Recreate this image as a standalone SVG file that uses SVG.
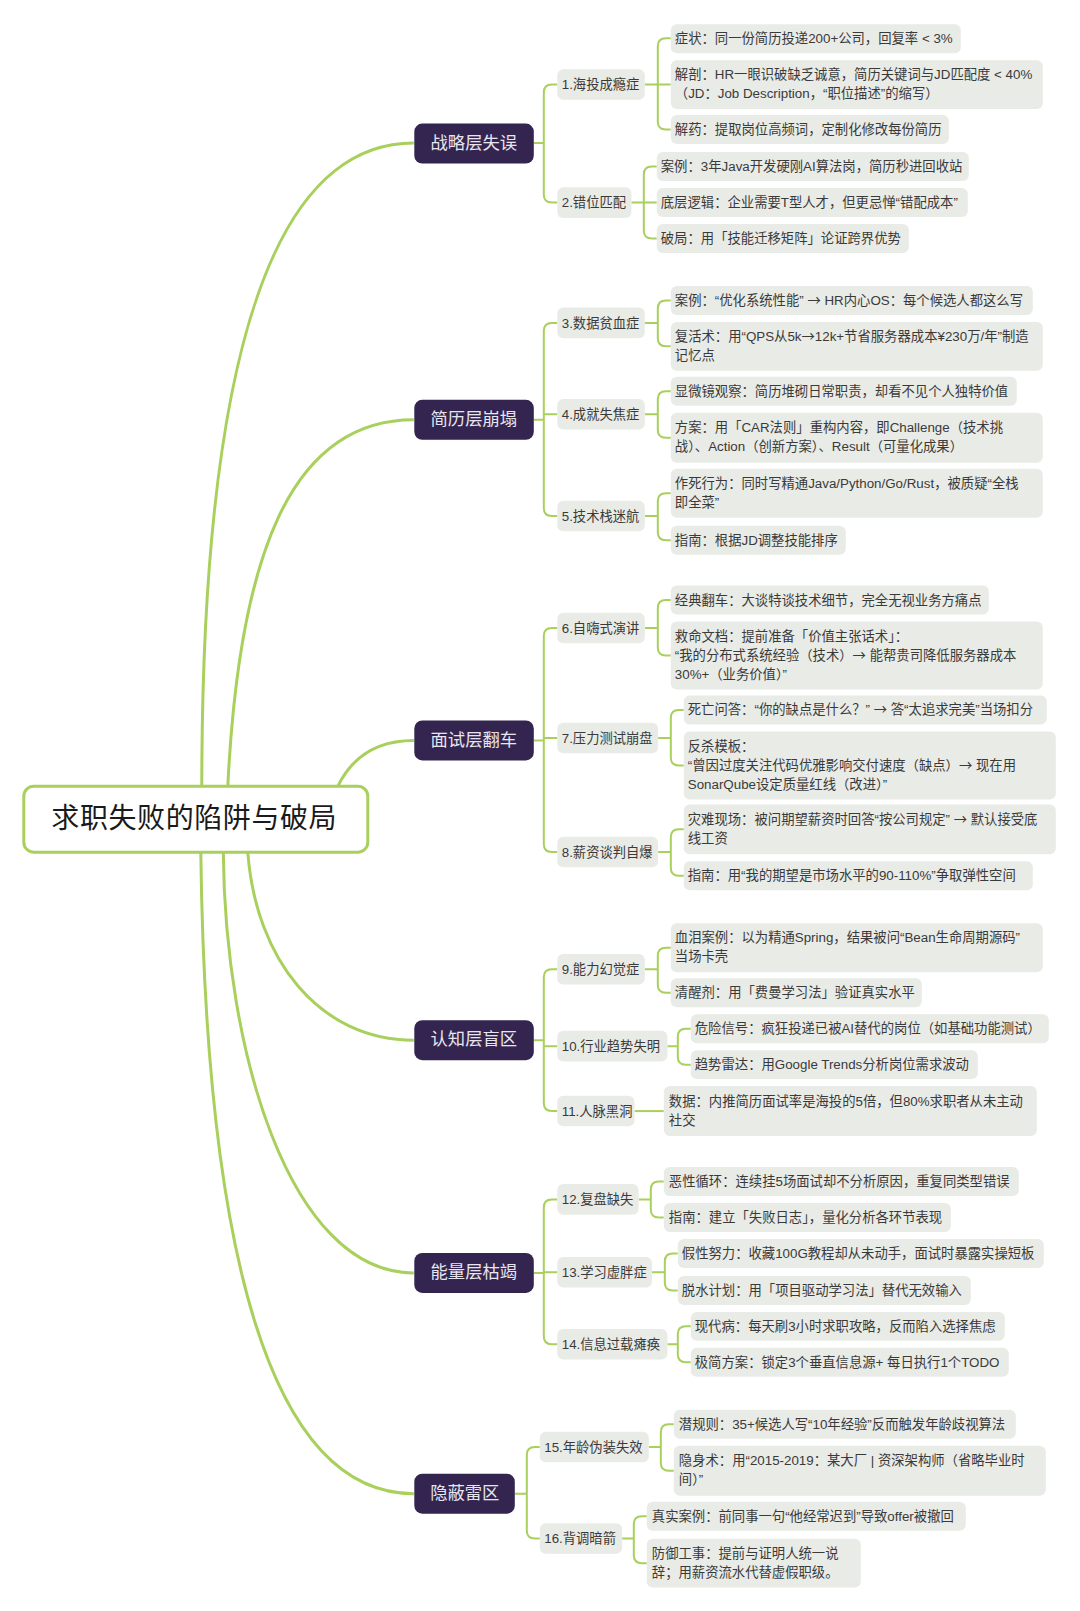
<svg xmlns="http://www.w3.org/2000/svg" width="1080" height="1611" viewBox="0 0 1080 1611">
<style>
text{font-family:"Liberation Sans","Noto Sans CJK SC",sans-serif}
.c,.m{fill:none;stroke:#a9d05c;stroke-width:2}
.m{stroke-width:3}
.l rect,.s rect{fill:#e9ebe6}
.l text{font-size:13.35px;fill:#3a3a3a}
.s text{font-size:13.3px;fill:#3a3a3a}
.t rect{fill:#33254f}
.t text{font-size:17.3px;fill:#e9e5ef;text-anchor:middle}
.a{font-family:"Noto Sans CJK SC",sans-serif}
</style>
<rect width="1080" height="1611" fill="#fff"/>
<g transform="translate(-1.2 0.2) scale(1 .999)">
<g id="connectors">
<path class="m" d="M203 787C203 400 260 143 415 143"/>
<path class="m" d="M229 787C240 560 290 420 415 420"/>
<path class="m" d="M339 787C352 760 375 741 415 741"/>
<path class="m" d="M249 853C257 960 320 1041 415 1041"/>
<path class="m" d="M224.500 853C226 1050 290 1274 415 1274"/>
<path class="m" d="M202 853C207 1250 270 1495 415 1495"/>
<path class="c" d="M535 143H545M558.5 84.3H553Q545 84.3 545 92.3V194.6Q545 202.6 553 202.6H558.5"/>
<path class="c" d="M535 420H545M558.5 323H553Q545 323 545 331V508.4Q545 516.4 553 516.4H558.5M545 414.5H558.5"/>
<path class="c" d="M535 741H545M558.5 628.5H553Q545 628.5 545 636.5V844.7Q545 852.7 553 852.7H558.5M545 738.5H558.5"/>
<path class="c" d="M535 1041H545M558.5 970H553Q545 970 545 978V1104Q545 1112 553 1112H558.5M545 1047H558.5"/>
<path class="c" d="M535 1274H545M558.5 1200.4H553Q545 1200.4 545 1208.4V1337.4Q545 1345.4 553 1345.4H558.5M545 1273.4H558.5"/>
<path class="c" d="M516 1495H528M541 1448.3H536Q528 1448.3 528 1456.3V1531.8Q528 1539.8 536 1539.8H541"/>
<path class="c" d="M646 84.3H672M672 38H667Q659 38 659 46V121.5Q659 129.5 667 129.5H672"/>
<path class="c" d="M632.6 202.6H658M658 166.5H653Q645 166.5 645 174.5V230.5Q645 238.5 653 238.5H658"/>
<path class="c" d="M646 323H659M672 300.5H667Q659 300.5 659 308.5V338.5Q659 346.5 667 346.5H672"/>
<path class="c" d="M646 414.5H659M672 391.5H667Q659 391.5 659 399.5V430Q659 438 667 438H672"/>
<path class="c" d="M646 516.4H659M672 493.5H667Q659 493.5 659 501.5V532.5Q659 540.5 667 540.5H672"/>
<path class="c" d="M646 628.5H659M672 600.5H667Q659 600.5 659 608.5V648Q659 656 667 656H672"/>
<path class="c" d="M659.3 738.5H672M685 710.5H680Q672 710.5 672 718.5V758Q672 766 680 766H685"/>
<path class="c" d="M659.3 852.7H672M685 830H680Q672 830 672 838V868.5Q672 876.5 680 876.5H685"/>
<path class="c" d="M646 970H659M672 948.5H667Q659 948.5 659 956.5V985.5Q659 993.5 667 993.5H672"/>
<path class="c" d="M668.6 1047H679M692 1029.5H687Q679 1029.5 679 1037.5V1057.5Q679 1065.5 687 1065.5H692"/>
<path class="c" d="M635.7 1112H665"/>
<path class="c" d="M639.8 1200.4H652M665 1182.5H660Q652 1182.5 652 1190.5V1210.5Q652 1218.5 660 1218.5H665"/>
<path class="c" d="M653.2 1273.4H666M679 1254.5H674Q666 1254.5 666 1262.5V1283.5Q666 1291.5 674 1291.5H679"/>
<path class="c" d="M668.6 1345.4H679M692 1327.5H687Q679 1327.5 679 1335.5V1355.5Q679 1363.5 687 1363.5H692"/>
<path class="c" d="M650 1448.3H662M675 1425.5H670Q662 1425.5 662 1433.5V1464Q662 1472 670 1472H675"/>
<path class="c" d="M623.3 1539.8H635M648 1517.5H643Q635 1517.5 635 1525.5V1556.5Q635 1564.5 643 1564.5H648"/>
</g>
<g id="root"><rect x="25" y="786.8" width="344" height="66" rx="10" fill="#fff" stroke="#a9d05c" stroke-width="3"/><text x="195.5" y="829" font-size="28" letter-spacing="0.6" text-anchor="middle" fill="#1a1a1a">求职失败的陷阱与破局</text></g>
<g id="t1" class="t"><rect x="415.5" y="123.5" width="119.5" height="40" rx="8"/><text x="475" y="148.7">战略层失误</text></g>
<g id="t2" class="t"><rect x="415.5" y="400" width="119.5" height="40" rx="8"/><text x="475" y="425.2">简历层崩塌</text></g>
<g id="t3" class="t"><rect x="415.5" y="721" width="119.5" height="40" rx="8"/><text x="475" y="746.2">面试层翻车</text></g>
<g id="t4" class="t"><rect x="415.5" y="1021" width="119.5" height="40" rx="8"/><text x="475" y="1046.200">认知层盲区</text></g>
<g id="t5" class="t"><rect x="415.5" y="1254" width="119.5" height="40" rx="8"/><text x="475" y="1279.200">能量层枯竭</text></g>
<g id="t6" class="t"><rect x="415.5" y="1475" width="100.5" height="40" rx="8"/><text x="466" y="1500.200">隐蔽雷区</text></g>
<g id="s1" class="s"><rect x="558.5" y="69" width="87.5" height="30.6" rx="6"/><text x="563" y="89">1.海投成瘾症</text></g>
<g id="s2" class="s"><rect x="558.5" y="187.3" width="74.1" height="30.6" rx="6"/><text x="563" y="207.3">2.错位匹配</text></g>
<g id="s3" class="s"><rect x="558.5" y="307.7" width="87.5" height="30.6" rx="6"/><text x="563" y="327.7">3.数据贫血症</text></g>
<g id="s4" class="s"><rect x="558.5" y="399.2" width="87.5" height="30.6" rx="6"/><text x="563" y="419.2">4.成就失焦症</text></g>
<g id="s5" class="s"><rect x="558.5" y="501.1" width="87.5" height="30.6" rx="6"/><text x="563" y="521.1">5.技术栈迷航</text></g>
<g id="s6" class="s"><rect x="558.5" y="613.2" width="87.5" height="30.6" rx="6"/><text x="563" y="633.2">6.自嗨式演讲</text></g>
<g id="s7" class="s"><rect x="558.5" y="723.2" width="100.8" height="30.6" rx="6"/><text x="563" y="743.2">7.压力测试崩盘</text></g>
<g id="s8" class="s"><rect x="558.5" y="837.4" width="100.8" height="30.6" rx="6"/><text x="563" y="857.4">8.薪资谈判自爆</text></g>
<g id="s9" class="s"><rect x="558.5" y="954.7" width="87.5" height="30.6" rx="6"/><text x="563" y="974.7">9.能力幻觉症</text></g>
<g id="s10" class="s"><rect x="558.5" y="1031.7" width="110.1" height="30.6" rx="6"/><text x="563" y="1051.7">10.行业趋势失明</text></g>
<g id="s11" class="s"><rect x="558.5" y="1096.7" width="77.2" height="30.6" rx="6"/><text x="563" y="1116.7">11.人脉黑洞</text></g>
<g id="s12" class="s"><rect x="558.5" y="1185.1" width="81.3" height="30.6" rx="6"/><text x="563" y="1205.1">12.复盘缺失</text></g>
<g id="s13" class="s"><rect x="558.5" y="1258.1" width="94.7" height="30.6" rx="6"/><text x="563" y="1278.1">13.学习虚胖症</text></g>
<g id="s14" class="s"><rect x="558.5" y="1330.1" width="110.1" height="30.6" rx="6"/><text x="563" y="1350.1">14.信息过载瘫痪</text></g>
<g id="s15" class="s"><rect x="541" y="1433" width="109" height="30.6" rx="6"/><text x="545.5" y="1453">15.年龄伪装失效</text></g>
<g id="s16" class="s"><rect x="541" y="1524.5" width="82.3" height="30.6" rx="6"/><text x="545.5" y="1544.5">16.背调暗箭</text></g>
<g id="l1" class="l"><rect x="672" y="24" width="290" height="29" rx="6"/><text x="676" y="43">症状&#xFF1A;同一份简历投递200+公司&#xFF0C;回复率 &lt; 3%</text></g>
<g id="l2" class="l"><rect x="672" y="60" width="372" height="49" rx="6"/><text x="676" y="79">解剖&#xFF1A;HR一眼识破缺乏诚意&#xFF0C;简历关键词与JD匹配度 &lt; 40%</text><text x="676" y="98">&#xFF08;JD&#xFF1A;Job Description&#xFF0C;“职位描述”的缩写&#xFF09;</text></g>
<g id="l3" class="l"><rect x="672" y="115" width="278" height="29" rx="6"/><text x="676" y="134">解药&#xFF1A;提取岗位高频词&#xFF0C;定制化修改每份简历</text></g>
<g id="l4" class="l"><rect x="658" y="152" width="312" height="29" rx="6"/><text x="662" y="171">案例&#xFF1A;3年Java开发硬刚AI算法岗&#xFF0C;简历秒进回收站</text></g>
<g id="l5" class="l"><rect x="658" y="188" width="311" height="29" rx="6"/><text x="662" y="207">底层逻辑&#xFF1A;企业需要T型人才&#xFF0C;但更忌惮“错配成本”</text></g>
<g id="l6" class="l"><rect x="658" y="224" width="252" height="29" rx="6"/><text x="662" y="243">破局&#xFF1A;用「技能迁移矩阵」论证跨界优势</text></g>
<g id="l7" class="l"><rect x="672" y="286" width="362" height="29" rx="6"/><text x="676" y="305">案例&#xFF1A;“优化系统性能” <tspan class="a">→</tspan> HR内心OS&#xFF1A;每个候选人都这么写</text></g>
<g id="l8" class="l"><rect x="672" y="322" width="372" height="49" rx="6"/><text x="676" y="341">复活术&#xFF1A;用“QPS从5k<tspan class="a">→</tspan>12k+节省服务器成本¥230万/年”制造</text><text x="676" y="360">记忆点</text></g>
<g id="l9" class="l"><rect x="672" y="377" width="346" height="29" rx="6"/><text x="676" y="396">显微镜观察&#xFF1A;简历堆砌日常职责&#xFF0C;却看不见个人独特价值</text></g>
<g id="l10" class="l"><rect x="672" y="413" width="372" height="50" rx="6"/><text x="676" y="432.5">方案&#xFF1A;用「CAR法则」重构内容&#xFF0C;即Challenge&#xFF08;技术挑</text><text x="676" y="451.5">战&#xFF09;、Action&#xFF08;创新方案&#xFF09;、Result&#xFF08;可量化成果&#xFF09;</text></g>
<g id="l11" class="l"><rect x="672" y="469" width="372" height="49" rx="6"/><text x="676" y="488">作死行为&#xFF1A;同时写精通Java/Python/Go/Rust&#xFF0C;被质疑“全栈</text><text x="676" y="507">即全菜”</text></g>
<g id="l12" class="l"><rect x="672" y="526" width="175" height="29" rx="6"/><text x="676" y="545">指南&#xFF1A;根据JD调整技能排序</text></g>
<g id="l13" class="l"><rect x="672" y="586" width="318" height="29" rx="6"/><text x="676" y="605">经典翻车&#xFF1A;大谈特谈技术细节&#xFF0C;完全无视业务方痛点</text></g>
<g id="l14" class="l"><rect x="672" y="622" width="372" height="68" rx="6"/><text x="676" y="641.5">救命文档&#xFF1A;提前准备「价值主张话术」&#xFF1A;</text><text x="676" y="660.5">“我的分布式系统经验&#xFF08;技术&#xFF09;<tspan class="a">→</tspan> 能帮贵司降低服务器成本</text><text x="676" y="679.5">30%+&#xFF08;业务价值&#xFF09;”</text></g>
<g id="l15" class="l"><rect x="685" y="696" width="363" height="29" rx="6"/><text x="689" y="715">死亡问答&#xFF1A;“你的缺点是什么&#xFF1F;” <tspan class="a">→</tspan> 答“太追求完美”当场扣分</text></g>
<g id="l16" class="l"><rect x="685" y="732" width="372" height="68" rx="6"/><text x="689" y="751.5">反杀模板&#xFF1A;</text><text x="689" y="770.5">“曾因过度关注代码优雅影响交付速度&#xFF08;缺点&#xFF09;<tspan class="a">→</tspan> 现在用</text><text x="689" y="789.5">SonarQube设定质量红线&#xFF08;改进&#xFF09;”</text></g>
<g id="l17" class="l"><rect x="685" y="805" width="372" height="50" rx="6"/><text x="689" y="824.5">灾难现场&#xFF1A;被问期望薪资时回答“按公司规定” <tspan class="a">→</tspan> 默认接受底</text><text x="689" y="843.5">线工资</text></g>
<g id="l18" class="l"><rect x="685" y="862" width="349" height="29" rx="6"/><text x="689" y="881">指南&#xFF1A;用“我的期望是市场水平的90-110%”争取弹性空间</text></g>
<g id="l19" class="l"><rect x="672" y="924" width="372" height="49" rx="6"/><text x="676" y="943">血泪案例&#xFF1A;以为精通Spring&#xFF0C;结果被问“Bean生命周期源码”</text><text x="676" y="962">当场卡壳</text></g>
<g id="l20" class="l"><rect x="672" y="979" width="251" height="29" rx="6"/><text x="676" y="998">清醒剂&#xFF1A;用「费曼学习法」验证真实水平</text></g>
<g id="l21" class="l"><rect x="692" y="1015" width="358" height="29" rx="6"/><text x="696" y="1034">危险信号&#xFF1A;疯狂投递已被AI替代的岗位&#xFF08;如基础功能测试&#xFF09;</text></g>
<g id="l22" class="l"><rect x="692" y="1051" width="287" height="29" rx="6"/><text x="696" y="1070">趋势雷达&#xFF1A;用Google Trends分析岗位需求波动</text></g>
<g id="l23" class="l"><rect x="665" y="1087" width="373" height="50" rx="6"/><text x="670" y="1106.5">数据&#xFF1A;内推简历面试率是海投的5倍&#xFF0C;但80%求职者从未主动</text><text x="670" y="1125.5">社交</text></g>
<g id="l24" class="l"><rect x="665" y="1168" width="355" height="29" rx="6"/><text x="670" y="1187">恶性循环&#xFF1A;连续挂5场面试却不分析原因&#xFF0C;重复同类型错误</text></g>
<g id="l25" class="l"><rect x="665" y="1204" width="287" height="29" rx="6"/><text x="670" y="1223">指南&#xFF1A;建立「失败日志」&#xFF0C;量化分析各环节表现</text></g>
<g id="l26" class="l"><rect x="679" y="1240" width="366" height="29" rx="6"/><text x="683" y="1259">假性努力&#xFF1A;收藏100G教程却从未动手&#xFF0C;面试时暴露实操短板</text></g>
<g id="l27" class="l"><rect x="679" y="1277" width="293" height="29" rx="6"/><text x="683" y="1296">脱水计划&#xFF1A;用「项目驱动学习法」替代无效输入</text></g>
<g id="l28" class="l"><rect x="692" y="1313" width="314" height="29" rx="6"/><text x="696" y="1332">现代病&#xFF1A;每天刷3小时求职攻略&#xFF0C;反而陷入选择焦虑</text></g>
<g id="l29" class="l"><rect x="692" y="1349" width="318" height="29" rx="6"/><text x="696" y="1368">极简方案&#xFF1A;锁定3个垂直信息源+ 每日执行1个TODO</text></g>
<g id="l30" class="l"><rect x="675" y="1411" width="342" height="29" rx="6"/><text x="680" y="1430">潜规则&#xFF1A;35+候选人写“10年经验”反而触发年龄歧视算法</text></g>
<g id="l31" class="l"><rect x="675" y="1447" width="372" height="50" rx="6"/><text x="680" y="1466.5">隐身术&#xFF1A;用“2015-2019&#xFF1A;某大厂 | 资深架构师&#xFF08;省略毕业时</text><text x="680" y="1485.5">间&#xFF09;”</text></g>
<g id="l32" class="l"><rect x="648" y="1503" width="319" height="29" rx="6"/><text x="653" y="1522">真实案例&#xFF1A;前同事一句“他经常迟到”导致offer被撤回</text></g>
<g id="l33" class="l"><rect x="648" y="1540" width="214" height="49" rx="6"/><text x="653" y="1559">防御工事&#xFF1A;提前与证明人统一说</text><text x="653" y="1578">辞&#xFF1B;用薪资流水代替虚假职级。</text></g>
</g>
</svg>
